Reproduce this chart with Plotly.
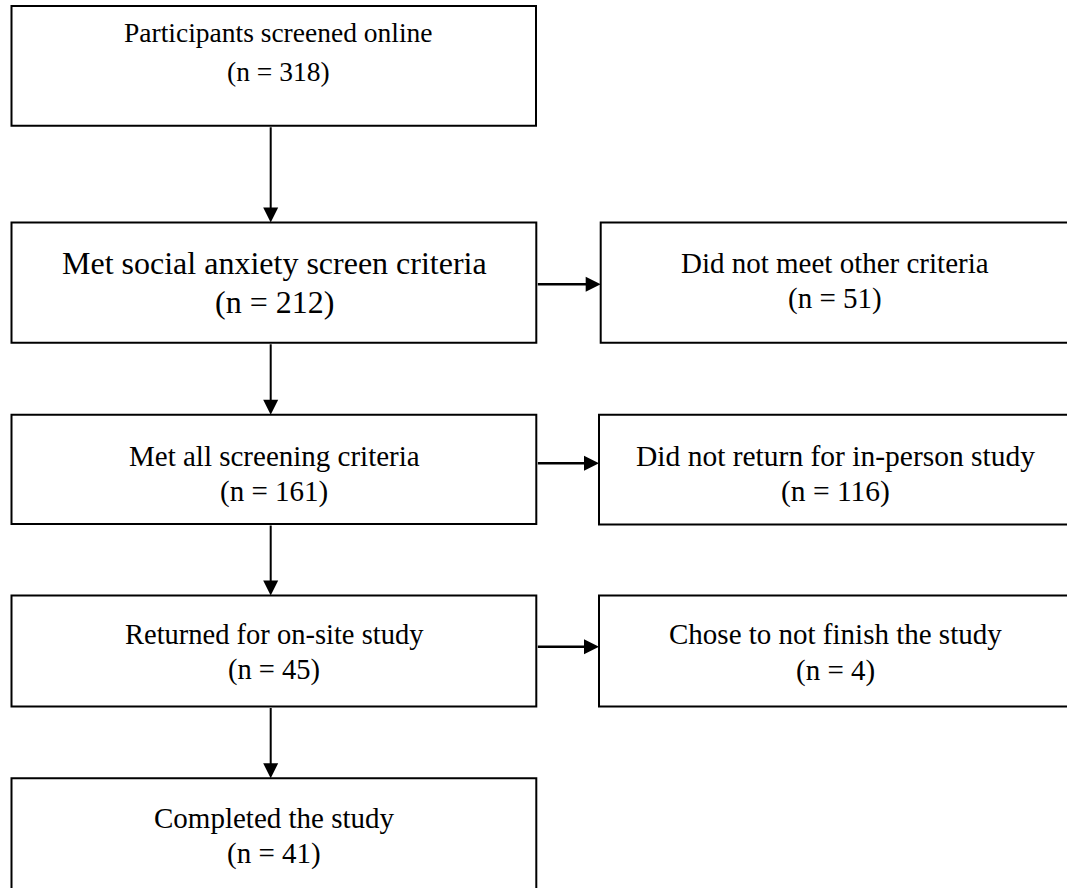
import plotly.graph_objects as go

# ---- data ----
stage_labels = [
    "Participants screened online",
    "Met social anxiety screen criteria",
    "Met all screening criteria",
    "Returned for on-site study",
    "Completed the study",
]
stage_n = [318, 212, 161, 45, 41]

exclusion_labels = [
    "Did not meet other criteria",
    "Did not return for in-person study",
    "Chose to not finish the study",
]
exclusion_n = [51, 116, 4]

# ---- layout geometry (reference pixel space) ----
W, H = 1067, 888
left_x = [(11.5, 536.0), (11.5, 536.3), (11.5, 536.3), (11.5, 536.3), (11.5, 536.3)]
left_y = [(6.0, 125.7), (222.5, 342.7), (414.7, 524.0), (595.5, 706.5), (778.3, 905.0)]
left_cx = [278, 274, 274, 274, 274]
left_line_y = [(32, 71), (263, 302), (456, 491), (634, 670), (818, 853)]
left_font = [27.5, 32, 29, 28.5, 29]

right_x = [(600.7, 1080.0), (599.0, 1080.0), (599.0, 1080.0)]
right_y = [(222.5, 342.7), (414.7, 524.5), (595.5, 706.5)]
right_cx = 835
right_line_y = [(263, 298), (456, 491), (634, 670)]
right_font = [29, 29.5, 29]

arrow_x = 270.7
horiz_arrow_y = [284.3, 463.3, 646.7]

FONT = "Liberation Serif, Times New Roman, serif"

fig = go.Figure()
shapes = []
annotations = []

def add_box(x0, x1, y0, y1, label, n, line_y, fsize, cx):
    shapes.append(dict(type="rect", xref="x", yref="y", x0=x0, x1=x1, y0=y0, y1=y1,
                       line=dict(color="black", width=2), fillcolor="white", layer="below"))
    annotations.append(dict(x=cx, y=line_y[0], xref="x", yref="y", text=label,
                            showarrow=False, xanchor="center", yanchor="middle",
                            font=dict(family=FONT, size=fsize, color="black")))
    annotations.append(dict(x=cx, y=line_y[1], xref="x", yref="y", text=f"(n = {n})",
                            showarrow=False, xanchor="center", yanchor="middle",
                            font=dict(family=FONT, size=fsize, color="black")))

for i, (lab, n) in enumerate(zip(stage_labels, stage_n)):
    x0, x1 = left_x[i]
    y0, y1 = left_y[i]
    add_box(x0, x1, y0, y1, lab, n, left_line_y[i], left_font[i], left_cx[i])

for i, (lab, n) in enumerate(zip(exclusion_labels, exclusion_n)):
    x0, x1 = right_x[i]
    y0, y1 = right_y[i]
    add_box(x0, x1, y0, y1, lab, n, right_line_y[i], right_font[i], right_cx)

# vertical arrows between consecutive stages
for i in range(len(stage_labels) - 1):
    annotations.append(dict(x=arrow_x, y=left_y[i + 1][0], ax=arrow_x, ay=left_y[i][1],
                            xref="x", yref="y", axref="x", ayref="y", text="",
                            showarrow=True, arrowhead=2, arrowsize=1.5, arrowwidth=2,
                            arrowcolor="black", standoff=0, startstandoff=0))

# horizontal arrows to exclusion boxes
for i in range(len(exclusion_labels)):
    annotations.append(dict(x=right_x[i][0], y=horiz_arrow_y[i], ax=left_x[i + 1][1], ay=horiz_arrow_y[i],
                            xref="x", yref="y", axref="x", ayref="y", text="",
                            showarrow=True, arrowhead=2, arrowsize=1.2, arrowwidth=2.5,
                            arrowcolor="black", standoff=0, startstandoff=0))

fig.update_layout(
    width=W, height=H,
    margin=dict(l=0, r=0, t=0, b=0),
    paper_bgcolor="white", plot_bgcolor="white",
    xaxis=dict(range=[0, W], visible=False, fixedrange=True),
    yaxis=dict(range=[H, 0], visible=False, fixedrange=True),
    shapes=shapes, annotations=annotations, showlegend=False,
)

fig.write_html(
    "out.html",
    config={"displayModeBar": False},
    post_script="document.body.style.margin='0';document.body.style.overflow='hidden';",
)
